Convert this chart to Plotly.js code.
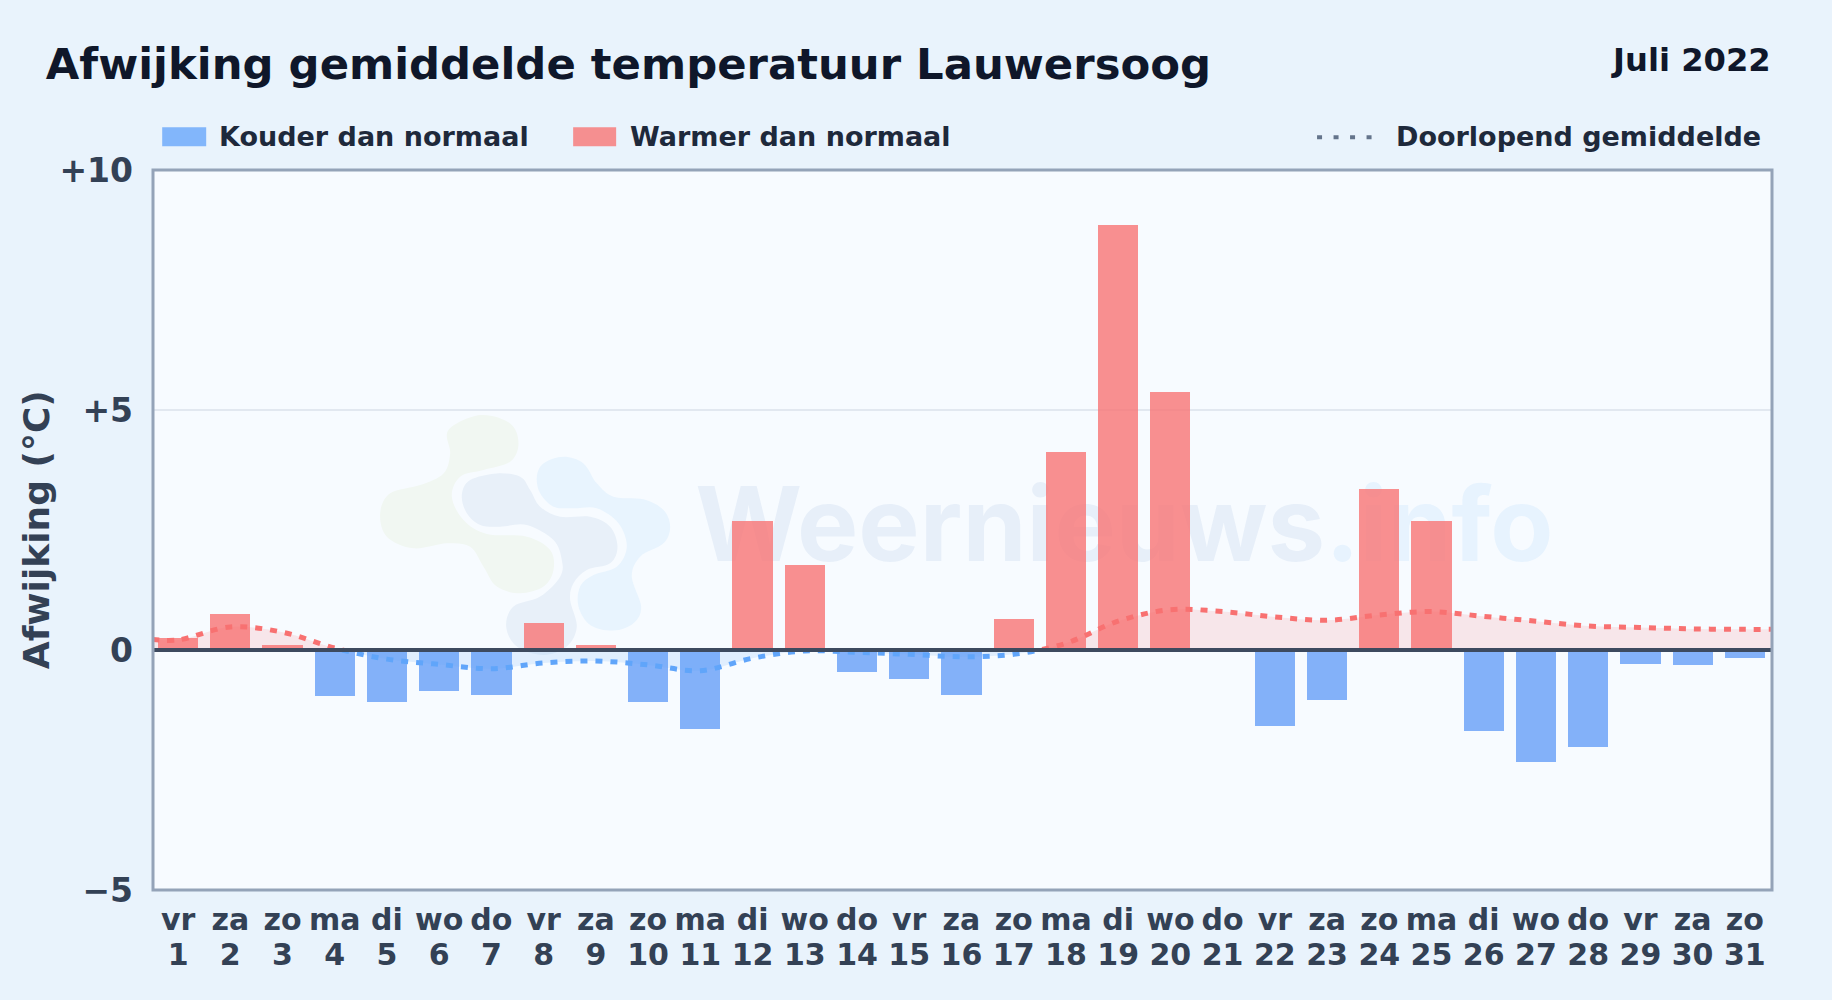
<!DOCTYPE html>
<html><head><meta charset="utf-8">
<script src="https://cdn.plot.ly/plotly-3.0.1.min.js"></script>
<style>html,body{margin:0;padding:0;background:#e9f3fc}#c{width:1832px;height:1000px}</style>
</head><body><div id="c"></div>
<script>
const weekdays=["vr","za","zo","ma","di","wo","do","vr","za","zo","ma","di","wo","do","vr","za","zo","ma","di","wo","do","vr","za","zo","ma","di","wo","do","vr","za","zo"];
const days=[1,2,3,4,5,6,7,8,9,10,11,12,13,14,15,16,17,18,19,20,21,22,23,24,25,26,27,28,29,30,31];
const deviation=[0.25,0.75,0.1,-0.95,-1.08,-0.85,-0.93,0.57,0.1,-1.08,-1.65,2.68,1.77,-0.45,-0.6,-0.93,0.65,4.12,8.85,5.37,0,-1.58,-1.05,3.35,2.68,-1.68,-2.34,-2.02,-0.3,-0.32,-0.17];
const runX=[0.5,1,2,3,4,5,6,7,8,9,10,11,12,13,14,15,16,17,18,19,20,21,22,23,24,25,26,27,28,29,30,31,31.5];
const runMean=[0.22,0.21,0.48,0.37,0.04,-0.19,-0.3,-0.39,-0.27,-0.23,-0.31,-0.43,-0.17,-0.02,-0.05,-0.09,-0.14,-0.09,0.14,0.6,0.84,0.8,0.69,0.62,0.73,0.8,0.7,0.6,0.5,0.47,0.44,0.43,0.43];
const yTickVals=[-5,0,5,10];
const yTickText=["−5","0","+5","+10"];
const greenBlob=[[325,150],[420,105],[510,130],[535,190],[510,245],[430,270],[360,290],[335,350],[370,420],[440,462],[560,470],[630,510],[640,570],[610,620],[540,640],[470,620],[430,560],[390,500],[320,490],[220,505],[140,470],[120,400],[150,340],[240,315],[310,280],[330,220]];
const slateBlob=[[365,345],[390,300],[470,280],[540,290],[570,330],[600,380],[660,410],[750,410],[810,440],[832,500],[810,550],[740,570],[700,610],[690,660],[710,740],[680,800],[610,825],[530,800],[498,740],[520,680],[600,650],[660,590],[665,540],[640,480],[560,435],[480,440],[420,435],[380,400]];
const skyBlob=[[590,290],[610,250],[670,230],[730,250],[770,310],[820,350],[910,358],[970,390],[990,440],[970,490],[900,530],[875,590],[903,680],[880,730],[820,752],[750,735],[715,680],[720,620],[760,585],[830,560],[860,500],[835,430],[770,385],[700,385],[640,380],[600,340]];

const W=1832,H=1000,L=152.8,R=1772,T=169.7,B=890.3;
const fx=x=>(x-L)/(R-L), fy=y=>(B-y)/(B-T);
function blobPath(pts){
  const p=pts.map(q=>[340+q[0]/3,380+q[1]/3]);
  const n=p.length;
  const P=(a,b)=>fx(a)+','+fy(b);
  let s='M'+P(p[0][0],p[0][1]);
  for(let i=0;i<n;i++){
    const a=p[(i-1+n)%n],b=p[i],c=p[(i+1)%n],d=p[(i+2)%n];
    s+=' C'+P(b[0]+(c[0]-a[0])/6,b[1]+(c[1]-a[1])/6)+' '+P(c[0]-(d[0]-b[0])/6,c[1]-(d[1]-b[1])/6)+' '+P(c[0],c[1]);
  }
  return s+' Z';
}
const cold='rgba(59,130,246,0.62)',warm='rgba(248,113,113,0.78)';
const big=t=>'<span style="font-size:30px">'+t+'</span>';
const traces=[
 {type:'scatter',mode:'text',x:[19.12],y:[2.4],text:['<span style="fill:rgb(40,95,170)">Weernieuws</span><span style="fill:rgb(40,150,240)">.info</span>'],textposition:'middle center',textfont:{family:'Inter',size:103,weight:700,color:'rgba(59,130,246,0.075)'},hoverinfo:'skip',showlegend:false,xaxis:'x',yaxis:'y'},
 {type:'bar',x:days,y:deviation,width:0.77,marker:{color:deviation.map(v=>v<0?cold:warm),line:{width:0}},xaxis:'x',yaxis:'y2',showlegend:false},
 {type:'scatter',mode:'lines',x:runX,y:runMean,line:{shape:'spline',smoothing:1,color:'#f87171',width:5,dash:'7px,8px'},fill:'tozeroy',fillcolor:'rgba(248,113,113,0.15)',xaxis:'x',yaxis:'y3',showlegend:false},
 {type:'scatter',mode:'lines',x:runX,y:runMean,line:{shape:'spline',smoothing:1,color:'#60a5fa',width:5,dash:'7px,8px'},fill:'tozeroy',fillcolor:'rgba(96,165,250,0.15)',xaxis:'x',yaxis:'y4',showlegend:false}
];
const hiddenY={visible:false,fixedrange:true,showgrid:false,zeroline:false,anchor:'x'};
const legendFont={family:'DejaVu Sans',size:27,color:'#1e293b',weight:700};
function label(text,x,y,anchor,font,angle){return {text:text,xref:'paper',yref:'paper',x:fx(x),y:fy(y),xanchor:anchor,yanchor:'middle',showarrow:false,font:font,borderpad:0,borderwidth:0,textangle:angle||0};}
const layout={
 width:W,height:H,paper_bgcolor:'#e9f3fc',plot_bgcolor:'rgba(0,0,0,0)',
 margin:{l:L,r:W-R,t:T,b:H-B,pad:0},bargap:0,showlegend:false,hovermode:false,
 title:{text:'Afwijking gemiddelde temperatuur Lauwersoog',x:45.8/W,xanchor:'left',xref:'container',y:1-64/H,yanchor:'middle',yref:'container',pad:{l:0,r:0,t:0,b:0},font:{family:'DejaVu Sans',size:43.35,weight:700,color:'#0f172a'}},
 xaxis:{range:[0.52,31.52],tickmode:'array',tickvals:days,ticktext:days.map((d,i)=>big(weekdays[i])+'<br>'+big(d)),tickangle:0,ticks:'',showgrid:false,zeroline:false,showline:false,tickfont:{family:'DejaVu Sans',size:26.4,weight:700,color:'#334155'},ticklabelstandoff:13,automargin:false,fixedrange:true,anchor:'y'},
 yaxis:{domain:[0,1],range:[-5,10],tickmode:'array',tickvals:yTickVals,ticktext:yTickText,ticks:'',showgrid:true,gridcolor:'#e2e8f0',gridwidth:1.5,zeroline:false,showline:false,tickfont:{family:'DejaVu Sans',size:33,weight:700,color:'#334155'},ticklabelstandoff:19,automargin:false,fixedrange:true},
 yaxis2:Object.assign({domain:[0,1],range:[-5,10]},hiddenY),
 yaxis3:Object.assign({domain:[1/3,1],range:[0,10]},hiddenY),
 yaxis4:Object.assign({domain:[0,1/3],range:[-5,0]},hiddenY),
 shapes:[
  {type:'rect',layer:'below',xref:'paper',yref:'paper',x0:0,x1:1,y0:0,y1:1,fillcolor:'#f7fbff',line:{width:0}},
  {type:'path',layer:'below',xref:'paper',yref:'paper',path:blobPath(greenBlob),fillcolor:'#f1f7f2',line:{width:0}},
  {type:'path',layer:'below',xref:'paper',yref:'paper',path:blobPath(slateBlob),fillcolor:'#e8f0f9',line:{width:0}},
  {type:'path',layer:'below',xref:'paper',yref:'paper',path:blobPath(skyBlob),fillcolor:'#e8f4fe',line:{width:0}},
  {type:'line',layer:'above',xref:'paper',yref:'y',x0:0,x1:1,y0:0,y1:0,line:{color:'#3d4a5f',width:4}},
  {type:'rect',layer:'above',xref:'paper',yref:'paper',x0:0,x1:1,y0:0,y1:1,line:{color:'#94a3b8',width:3},fillcolor:'rgba(0,0,0,0)'},
  {type:'rect',xref:'paper',yref:'paper',x0:fx(162),x1:fx(206),y0:fy(146),y1:fy(127),fillcolor:'#82b6fb',line:{width:0}},
  {type:'rect',xref:'paper',yref:'paper',x0:fx(573),x1:fx(616),y0:fy(146),y1:fy(127),fillcolor:'#f58f90',line:{width:0}},
  {type:'line',xref:'paper',yref:'paper',x0:fx(1317),x1:fx(1373),y0:fy(137),y1:fy(137),line:{color:'#64748b',width:4,dash:'5px,11.5px'}}
 ],
 annotations:[
  label('Afwijking (°C)',36,530,'center',{family:'DejaVu Sans',size:36,weight:700,color:'#334155'},-90),
  label('Juli 2022',1771,59.5,'right',{family:'DejaVu Sans',size:32.2,weight:700,color:'#0f172a'}),
  label('Kouder dan normaal',219,136,'left',legendFont),
  label('Warmer dan normaal',630,136,'left',legendFont),
  label('Doorlopend gemiddelde',1760.5,136,'right',legendFont)
 ]
};
Plotly.newPlot('c',traces,layout,{displayModeBar:false,staticPlot:true});
</script></body></html>
